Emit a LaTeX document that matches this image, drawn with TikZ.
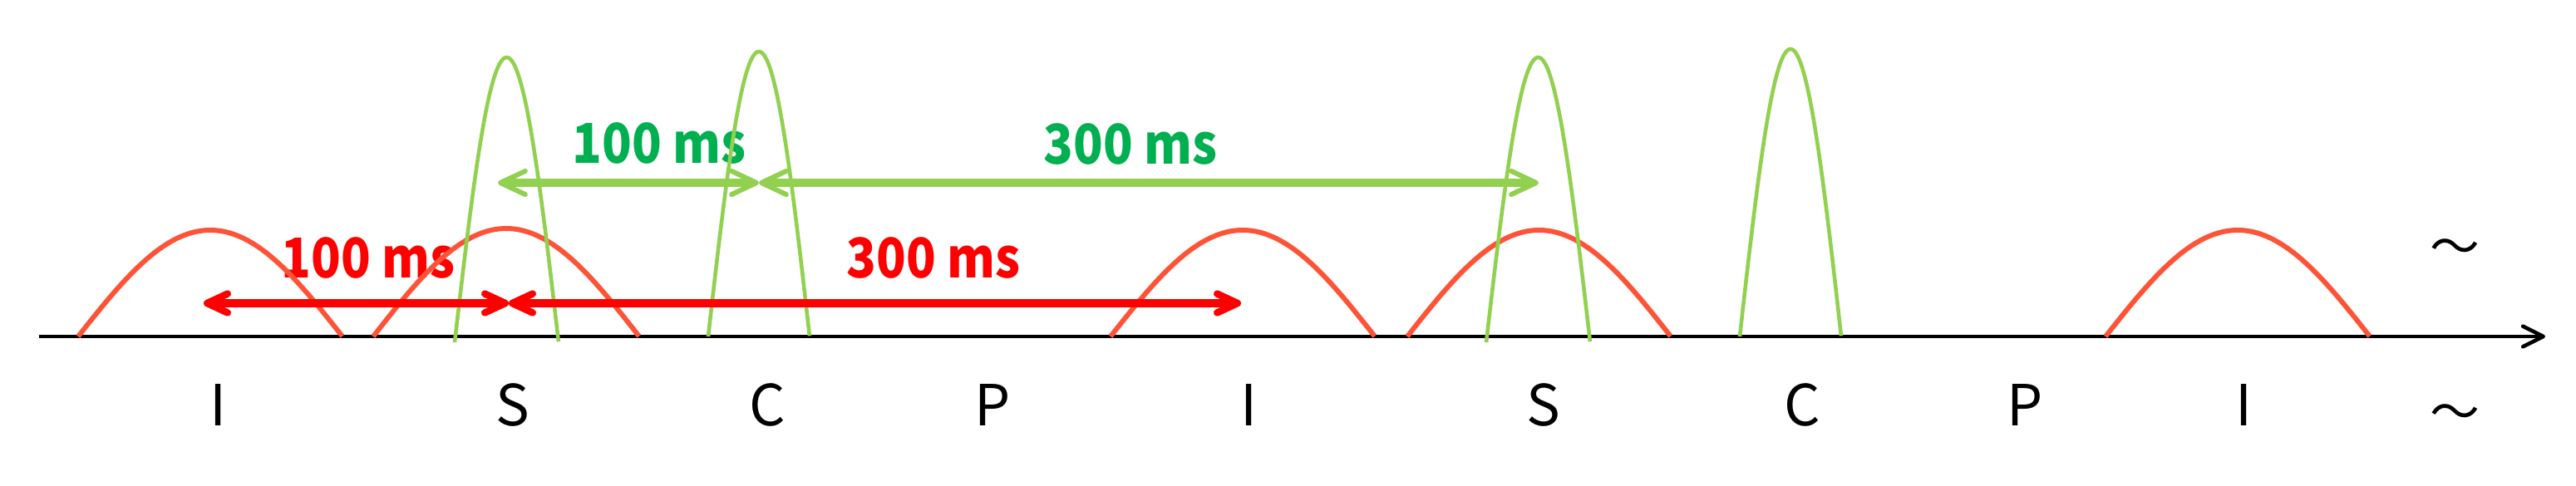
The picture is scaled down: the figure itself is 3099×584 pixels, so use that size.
\documentclass[tikz,border=0pt]{standalone}
\usepackage{fontspec}
\usepackage{graphicx}
\usetikzlibrary{arrows.meta}
\newfontfamily\jpfont{Noto Sans CJK JP}
\definecolor{humpred}{RGB}{255,83,55}
\definecolor{peakgreen}{RGB}{146,208,80}
\definecolor{textgreen}{RGB}{0,176,80}
\definecolor{arrred}{RGB}{255,0,0}
\newcommand{\narrowed}[1]{\scalebox{0.89}[1]{#1}}
\begin{document}
\begin{tikzpicture}[x=0.01cm,y=-0.01cm,
  hump/.style={draw=humpred, line width=1.7pt},
  peak/.style={draw=peakgreen, line width=1.3pt},
  redhead/.tip={Straight Barb[length=7pt,width=6.5pt,line width=2.4pt,round]},
  greenhead/.tip={Straight Barb[length=8.5pt,width=8pt,line width=1.7pt,round]},
  axishead/.tip={Straight Barb[length=7pt,width=7pt,line width=1.3pt,round]},
  redspan/.style={draw=arrred, line width=2.6pt, redhead-redhead},
  greenspan/.style={draw=peakgreen, line width=2.6pt, greenhead-greenhead},
  axisline/.style={draw=black, line width=1.3pt, -axishead},
  seglabel/.style={anchor=base, inner sep=0pt, font=\jpfont\fontsize{19.4pt}{20pt}\selectfont},
  redlabel/.style={anchor=base, inner sep=0pt, text=arrred, font=\jpfont\bfseries\fontsize{18.8pt}{19pt}\selectfont},
  greenlabel/.style={anchor=base, inner sep=0pt, text=textgreen, font=\jpfont\bfseries\fontsize{18.8pt}{19pt}\selectfont},
  tildelabel/.style={anchor=center, inner sep=0pt, font=\jpfont\fontsize{17pt}{18pt}\selectfont}
]
\useasboundingbox (0,0) rectangle (3099,584);

% axis
\coordinate (a0) at (47,405);
\coordinate (a1) at (3062,405);
\draw[axisline] (a0) -- (a1);

% texts
\node[redlabel] (r100) at (443,334) {\narrowed{100 ms}};
\node[redlabel] (r300) at (1123,334) {\narrowed{300 ms}};
\node[greenlabel] (g100) at (793,196) {\narrowed{100 ms}};
\node[greenlabel] (g300) at (1360,197) {\narrowed{300 ms}};

% red humps
\draw[hump] plot[domain=0:1,samples=60,smooth] ({94+318*\x},{405-128*sin(180*\x)});
\draw[hump] plot[domain=0:1,samples=60,smooth] ({449+320*\x},{405-130*sin(180*\x)});
\draw[hump] plot[domain=0:1,samples=60,smooth] ({1336+318*\x},{405-128*sin(180*\x)});
\draw[hump] plot[domain=0:1,samples=60,smooth] ({1693+317*\x},{405-128*sin(180*\x)});
\draw[hump] plot[domain=0:1,samples=60,smooth] ({2533+318*\x},{405-128*sin(180*\x)});

% green peaks
\draw[peak] plot[domain=0:1,samples=60,smooth] ({547+125*\x},{412-343*sin(180*\x)});
\draw[peak] plot[domain=0:1,samples=60,smooth] ({852+122*\x},{405-343*sin(180*\x)});
\draw[peak] plot[domain=0:1,samples=60,smooth] ({1788+125*\x},{412-343*sin(180*\x)});
\draw[peak] plot[domain=0:1,samples=60,smooth] ({2093+122*\x},{405-346*sin(180*\x)});

% spans
\coordinate (g0) at (599,220);
\coordinate (g1) at (913,220);
\coordinate (g2) at (1851,220);
\draw[greenspan] (g0) -- (g1);
\draw[greenspan] (g1) -- (g2);
\coordinate (r0) at (245,365);
\coordinate (r1) at (612,365);
\coordinate (r2) at (1493,365);
\draw[redspan] (r0) -- (r1);
\draw[redspan] (r1) -- (r2);

% segment labels
\node[seglabel] (l1) at (262,512) {I};
\node[seglabel] (l2) at (617,512) {S};
\node[seglabel] (l3) at (923,512) {C};
\node[seglabel] (l4) at (1194,512) {P};
\node[seglabel] (l5) at (1502,512) {I};
\node[seglabel] (l6) at (1857,512) {S};
\node[seglabel] (l7) at (2168,512) {C};
\node[seglabel] (l8) at (2436,512) {P};
\node[seglabel] (l9) at (2699,512) {I};
\node[tildelabel] (t1) at (2953,303) {\char"FF5E};
\node[tildelabel] (t2) at (2953,502) {\char"FF5E};
\end{tikzpicture}
\end{document}
